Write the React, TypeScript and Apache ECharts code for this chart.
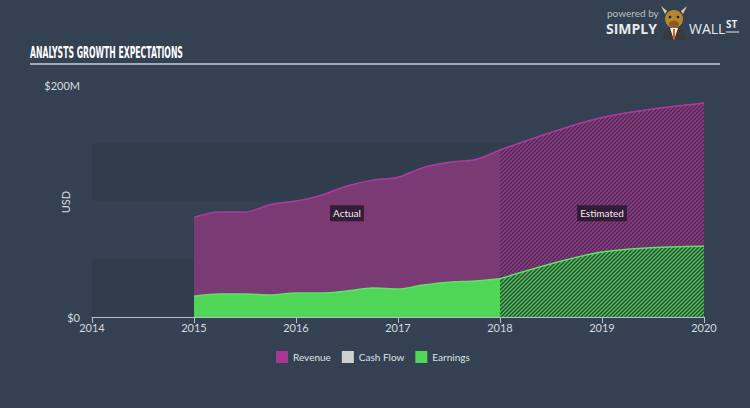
import React, { useEffect, useRef } from "react";
import * as echarts from "echarts";

const years = [2014, 2015, 2016, 2017, 2018, 2019, 2020];
const revenueActual: [number, number][] = [
  [2015, 86], [2015.25, 90.5], [2015.5, 90.5], [2015.75, 97], [2016, 100], [2016.25, 105],
  [2016.5, 113], [2016.75, 118], [2017, 120.5], [2017.25, 129], [2017.5, 133.5], [2017.75, 135.5], [2018, 144],
];
const revenueEstimate: [number, number][] = [[2018, 144], [2019, 172], [2020, 184.5]];
const earningsActual: [number, number][] = [
  [2015, 18], [2015.25, 19.8], [2015.5, 19.8], [2015.75, 19], [2016, 20.7], [2016.25, 20.7],
  [2016.5, 22.4], [2016.75, 25], [2017, 24.2], [2017.25, 27.6], [2017.5, 30], [2017.75, 31], [2018, 33],
];
const earningsEstimate: [number, number][] = [[2018, 33], [2019, 56], [2020, 61]];
const legendNames = ["Revenue", "Cash Flow", "Earnings"];
const phaseLabels: { text: string; x: number; y: number }[] = [
  { text: "Actual", x: 2016.5, y: 89.5 },
  { text: "Estimated", x: 2019, y: 89.5 },
];

const BG = "#344152";
const FONT = "Lato, 'Noto Sans', sans-serif";

function hatch(bg: string, fg: string) {
  const c = document.createElement("canvas");
  c.width = 4;
  c.height = 4;
  const ctx = c.getContext("2d")!;
  ctx.fillStyle = bg;
  ctx.fillRect(0, 0, 4, 4);
  ctx.strokeStyle = fg;
  ctx.lineWidth = 1.3;
  ctx.beginPath();
  ctx.moveTo(-1, 5); ctx.lineTo(5, -1);
  ctx.moveTo(-1, 1); ctx.lineTo(1, -1);
  ctx.moveTo(3, 5); ctx.lineTo(5, 3);
  ctx.stroke();
  return c;
}

function measure(text: string, font: string) {
  const c = document.createElement("canvas").getContext("2d")!;
  c.font = font;
  return c.measureText(text).width;
}

export default function App() {
  const ref = useRef<HTMLDivElement>(null);
  useEffect(() => {
    document.body.style.margin = "0";
    const chart = echarts.init(ref.current!, null, { renderer: "svg" });
    const titleFont = "bold 16px 'Liberation Sans Narrow', 'DejaVu Sans Condensed', sans-serif";
    const titleText = "ANALYSTS GROWTH EXPECTATIONS";
    const tw = measure(titleText, titleFont) || 153;
    const titleScale = 153 / tw;

    const labelPoint = (p: { text: string; x: number; y: number }) => ({
      coord: [p.x, p.y],
      value: p.text,
    });

    const option: any = {
      animation: false,
      backgroundColor: BG,
      textStyle: { fontFamily: FONT },
      grid: { left: 92, right: 46, top: 85, bottom: 91 },
      legend: {
        data: legendNames,
        bottom: 40,
        left: 271,
        icon: "rect",
        itemWidth: 12,
        itemHeight: 12,
        itemGap: 11,
        textStyle: { color: "#dde2e8", fontSize: 10, fontFamily: FONT },
      },
      xAxis: {
        type: "value",
        min: years[0],
        max: years[years.length - 1],
        interval: 1,
        axisLine: { lineStyle: { color: "#b9c0c9", width: 1 } },
        axisTick: { show: true, length: 6, lineStyle: { color: "#b9c0c9" } },
        axisLabel: { color: "#d5dae0", fontSize: 11, margin: 5, formatter: (v: number) => String(v) },
        splitLine: { show: false },
      },
      yAxis: {
        type: "value",
        min: 0,
        max: 200,
        interval: 50,
        axisLine: { show: false },
        axisTick: { show: false },
        axisLabel: {
          color: "#d5dae0",
          fontSize: 11,
          margin: 12,
          formatter: (v: number) => (v === 0 ? "$0" : v === 200 ? "$200M" : ""),
        },
        splitLine: { show: false },
        splitArea: { show: true, areaStyle: { color: ["rgba(20,30,40,0.12)", "rgba(0,0,0,0)"] } },
      },
      series: [
        {
          name: "Revenue",
          type: "line",
          data: revenueActual,
          smooth: 0.3,
          symbol: "none",
          itemStyle: { color: "#a8388f" },
          lineStyle: { color: "#b03a9c", width: 1.5 },
          areaStyle: { color: "#7a3a73", opacity: 1 },
          z: 2,
          markPoint: {
            symbol: "circle",
            symbolSize: 0,
            data: phaseLabels.map(labelPoint),
            label: {
              show: true,
              formatter: (p: any) => p.value,
              color: "#eee",
              fontSize: 10,
              fontFamily: FONT,
              backgroundColor: "rgba(35,22,40,0.8)",
              padding: [3, 3],
            },
          },
        },
        {
          name: "Revenue",
          type: "line",
          data: revenueEstimate,
          smooth: 0.3,
          symbol: "none",
          itemStyle: { color: "#a8388f" },
          lineStyle: { color: "#b03a9c", width: 1.5 },
          areaStyle: { color: { image: hatch("#4a2d50", "#983a8b"), repeat: "repeat" }, opacity: 1 },
          z: 2,
        },
        {
          name: "Cash Flow",
          type: "line",
          data: [],
          itemStyle: { color: "#cfcfcf" },
        },
        {
          name: "Earnings",
          type: "line",
          data: earningsActual,
          smooth: 0.3,
          symbol: "none",
          itemStyle: { color: "#4fd657" },
          lineStyle: { color: "#5ee366", width: 1.5 },
          areaStyle: { color: "#4fd657", opacity: 1 },
          z: 3,
        },
        {
          name: "Earnings",
          type: "line",
          data: earningsEstimate,
          smooth: 0.3,
          symbol: "none",
          itemStyle: { color: "#4fd657" },
          lineStyle: { color: "#5ee366", width: 1.5 },
          areaStyle: { color: { image: hatch("#2e4a3a", "#4cc956"), repeat: "repeat" }, opacity: 1 },
          z: 3,
        },
      ],
      graphic: [
        {
          type: "text",
          left: 30,
          top: 44,
          scaleX: titleScale,
          style: { text: titleText, fill: "#ffffff", font: titleFont },
        },
        {
          type: "line",
          shape: { x1: 30, y1: 64, x2: 720, y2: 64 },
          style: { stroke: "#c9d0d8", lineWidth: 1.5 },
        },
        {
          type: "text",
          x: 65,
          y: 202,
          rotation: Math.PI / 2,
          style: {
            text: "USD",
            fill: "#d5dae0",
            font: "11px " + FONT,
            align: "center",
            verticalAlign: "middle",
          },
        },
        {
          type: "text",
          left: 607,
          top: 8,
          style: { text: "powered by", fill: "#b8bec6", font: "10px " + FONT },
        },
        {
          type: "text",
          left: 606,
          top: 21,
          style: { text: "SIMPLY", fill: "#e6e9ed", font: "bold 14px 'Open Sans', sans-serif" },
        },
        {
          type: "text",
          left: 689,
          top: 21,
          style: { text: "WALL", fill: "#e6e9ed", font: "14px 'Open Sans', sans-serif" },
        },
        {
          type: "text",
          left: 726,
          top: 19,
          style: { text: "ST", fill: "#e6e9ed", font: "bold 10px 'Open Sans', sans-serif" },
        },
        {
          type: "line",
          shape: { x1: 726, y1: 32, x2: 739, y2: 32 },
          style: { stroke: "#e6e9ed", lineWidth: 1 },
        },
        {
          type: "group",
          children: [
            { type: "polygon", shape: { points: [[662, 40], [666, 28], [682, 28], [686, 40]] }, style: { fill: "#3a3a3a" } },
            { type: "polygon", shape: { points: [[670, 28], [674, 40], [678, 28]] }, style: { fill: "#f2f2f2" } },
            { type: "polygon", shape: { points: [[673, 29], [675, 29], [675, 38], [674, 39], [673, 38]] }, style: { fill: "#e05a1c" } },
            { type: "circle", shape: { cx: 674, cy: 19, r: 9 }, style: { fill: "#b8862f" } },
            { type: "polygon", shape: { points: [[665, 14], [661, 6], [667, 11]] }, style: { fill: "#d9c9a0" } },
            { type: "polygon", shape: { points: [[683, 14], [687, 6], [681, 11]] }, style: { fill: "#d9c9a0" } },
            { type: "ellipse", shape: { cx: 674, cy: 24, rx: 5, ry: 3.5 }, style: { fill: "#8a5a1e" } },
            { type: "circle", shape: { cx: 670, cy: 17, r: 1.3 }, style: { fill: "#222" } },
            { type: "circle", shape: { cx: 678, cy: 17, r: 1.3 }, style: { fill: "#222" } },
          ],
        },
      ],
    };
    chart.setOption(option);
    return () => chart.dispose();
  }, []);
  return <div ref={ref} style={{ position: "fixed", left: 0, top: 0, width: 750, height: 408 }} />;
}
